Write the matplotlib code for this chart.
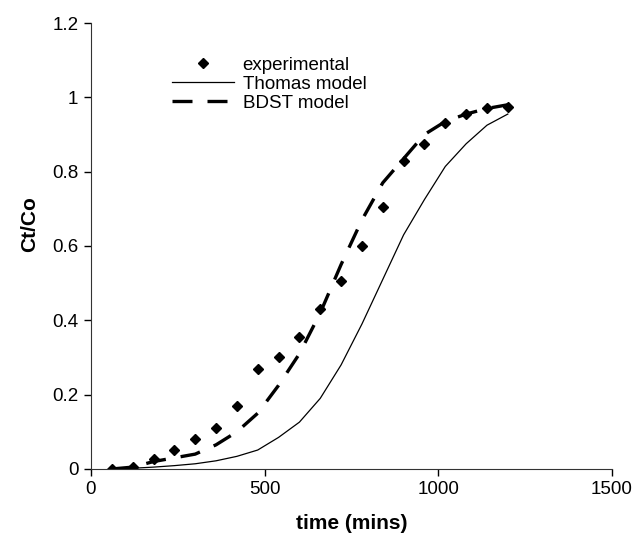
import numpy as np
import matplotlib.pyplot as plt

plt.rcParams['font.family'] = ['Liberation Sans', 'DejaVu Sans']

# time (mins)
time = [60, 120, 180, 240, 300, 360, 420, 480, 540, 600,
        660, 720, 780, 840, 900, 960, 1020, 1080, 1140, 1200]

# experimental Ct/Co
exp_ct = [0.0, 0.005, 0.027, 0.05, 0.08, 0.11, 0.17, 0.27, 0.30, 0.355,
          0.43, 0.505, 0.60, 0.705, 0.83, 0.875, 0.932, 0.955, 0.97, 0.975]

# Thomas model
thomas = [0.0, 0.002, 0.005, 0.009, 0.014, 0.022, 0.034, 0.051, 0.085, 0.126,
          0.19, 0.28, 0.39, 0.51, 0.63, 0.725, 0.814, 0.875, 0.925, 0.955]

# BDST model
bdst = [0.0, 0.005, 0.02, 0.03, 0.04, 0.065, 0.10, 0.15, 0.225, 0.31,
        0.42, 0.55, 0.67, 0.77, 0.835, 0.90, 0.935, 0.955, 0.97, 0.98]

fig = plt.figure(figsize=(6.35, 5.35), dpi=100)
ax = fig.add_axes([0.1433, 0.1234, 0.8205, 0.8336])

ax.plot(time, exp_ct, 'D', color='black', ms=5.5, label='experimental')
ax.plot(time, thomas, '-', color='black', lw=0.9, label='Thomas model')
ax.plot(time, bdst, color='black', lw=2.4, dashes=(6, 4.5), label='BDST model')

ax.set_xlim(0, 1500)
ax.set_ylim(0, 1.2)
ax.set_xticks([0, 500, 1000, 1500])
ax.set_yticks([0, 0.2, 0.4, 0.6, 0.8, 1.0, 1.2])
ax.set_yticklabels(['0', '0.2', '0.4', '0.6', '0.8', '1', '1.2'])
ax.tick_params(direction='out', length=5, width=1, labelsize=13.5, pad=4)

for s in ['top', 'right']:
    ax.spines[s].set_visible(False)
for s in ['left', 'bottom']:
    ax.spines[s].set_color('#333333')

ax.set_xlabel('time (mins)', fontsize=15, fontweight='bold', labelpad=11)
ax.set_ylabel('Ct/Co', fontsize=15, fontweight='bold')
ax.yaxis.set_label_coords(-0.1, 0.55)

ax.legend(loc='upper left', bbox_to_anchor=(0.138, 0.945), frameon=False,
          fontsize=13.5, handlelength=3.3, handletextpad=0.45,
          labelspacing=0.1, borderpad=0)

fig.savefig('out.png')
